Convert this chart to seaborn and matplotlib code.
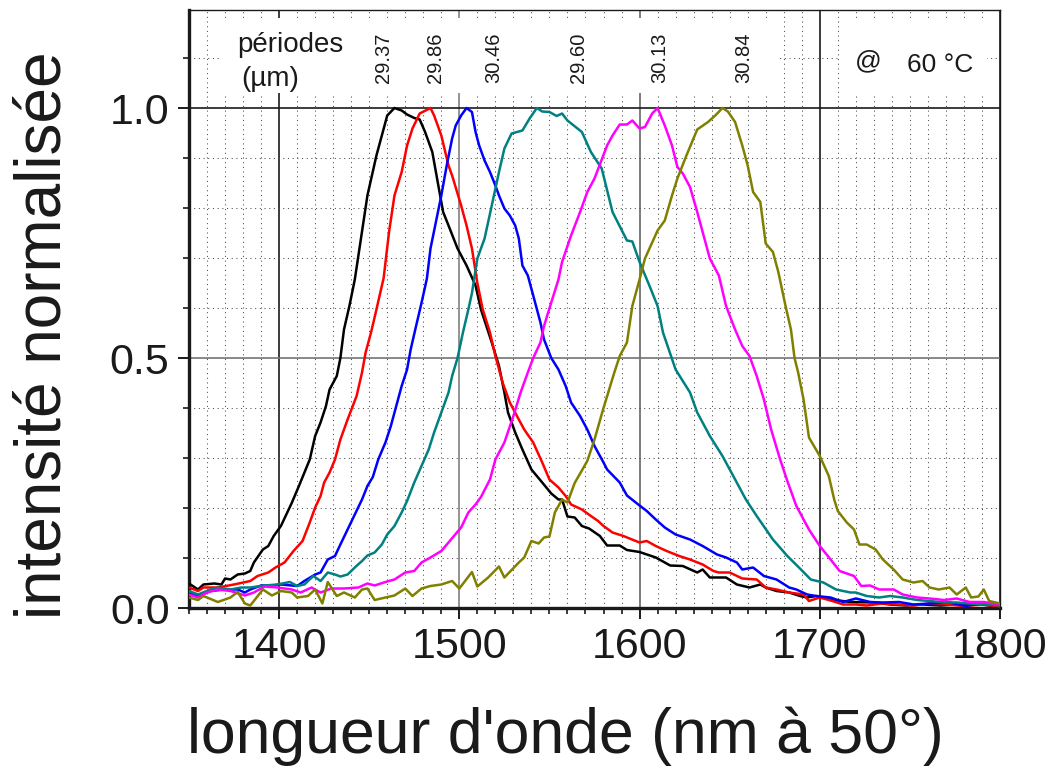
import numpy as np
import pandas as pd
import matplotlib
matplotlib.use("Agg")
import matplotlib.pyplot as plt
from matplotlib.patches import Rectangle
from matplotlib.ticker import MultipleLocator
from matplotlib import font_manager
import seaborn as sns

# ---------------- data ----------------
periods = ["29.37", "29.86", "30.46", "29.60", "30.13", "30.84"]
colors = ["#000000", "#ff0000", "#0000ff", "#008080", "#ff00ff", "#808000"]
label_x = [1458, 1487, 1519, 1566, 1611, 1658]

wl_2937 = [1350, 1355, 1358, 1364, 1368, 1370, 1373, 1377, 1381, 1384, 1386, 1391, 1394, 1397, 1401,
           1407, 1411, 1417, 1420, 1423, 1426, 1428, 1432, 1434, 1436, 1439, 1442, 1444, 1449, 1454,
           1457, 1460, 1464, 1468, 1471, 1475, 1478, 1481, 1485, 1488, 1491, 1494, 1499, 1504, 1509,
           1512, 1515, 1518, 1522, 1525, 1527, 1531, 1535, 1540, 1546, 1551, 1555, 1557, 1560, 1564,
           1568, 1572, 1578, 1582, 1589, 1593, 1600, 1609, 1617, 1624, 1632, 1635, 1639, 1648, 1654,
           1661, 1667, 1670, 1676, 1683, 1689, 1693, 1698, 1706, 1717, 1730, 1739, 1748, 1757, 1767,
           1776, 1785, 1794, 1800]
in_2937 = [0.049, 0.037, 0.047, 0.049, 0.047, 0.059, 0.057, 0.067, 0.069, 0.074, 0.091, 0.117, 0.124, 0.144, 0.164,
           0.210, 0.244, 0.297, 0.344, 0.371, 0.404, 0.437, 0.464, 0.500, 0.557, 0.604, 0.657, 0.705, 0.825, 0.905,
           0.945, 0.985, 1.000, 0.995, 0.987, 0.980, 0.977, 0.952, 0.912, 0.852, 0.792, 0.765, 0.719, 0.685, 0.645,
           0.597, 0.564, 0.531, 0.484, 0.431, 0.391, 0.351, 0.317, 0.277, 0.251, 0.229, 0.217, 0.217, 0.183, 0.181,
           0.164, 0.159, 0.144, 0.125, 0.125, 0.116, 0.112, 0.101, 0.085, 0.084, 0.071, 0.077, 0.061, 0.061, 0.047,
           0.041, 0.047, 0.041, 0.034, 0.031, 0.024, 0.021, 0.024, 0.017, 0.012, 0.011, 0.007, 0.005, 0.007, 0.005,
           0.007, 0.009, 0.005, 0.003]

wl_2986 = [1350, 1355, 1358, 1366, 1375, 1384, 1388, 1394, 1398, 1403, 1408, 1413, 1417, 1420, 1423,
           1425, 1428, 1431, 1434, 1438, 1443, 1446, 1448, 1451, 1454, 1458, 1461, 1464, 1468, 1471,
           1474, 1478, 1484, 1486, 1490, 1494, 1496, 1501, 1504, 1507, 1510, 1513, 1517, 1520, 1524,
           1528, 1533, 1536, 1541, 1546, 1550, 1555, 1559, 1562, 1568, 1573, 1577, 1580, 1585, 1591,
           1600, 1604, 1609, 1615, 1622, 1628, 1635, 1641, 1644, 1650, 1657, 1665, 1670, 1676, 1683,
           1691, 1694, 1700, 1707, 1713, 1720, 1726, 1735, 1743, 1752, 1761, 1770, 1780, 1791, 1800]
in_2986 = [0.041, 0.034, 0.041, 0.041, 0.047, 0.054, 0.064, 0.071, 0.081, 0.091, 0.114, 0.134, 0.171, 0.201, 0.224,
           0.251, 0.271, 0.297, 0.337, 0.377, 0.424, 0.471, 0.511, 0.551, 0.597, 0.660, 0.752, 0.825, 0.872, 0.925,
           0.959, 0.989, 1.000, 0.985, 0.945, 0.885, 0.865, 0.805, 0.765, 0.719, 0.650, 0.597, 0.551, 0.504, 0.451,
           0.411, 0.377, 0.357, 0.331, 0.291, 0.257, 0.241, 0.224, 0.207, 0.197, 0.184, 0.174, 0.164, 0.151, 0.144,
           0.131, 0.134, 0.124, 0.114, 0.104, 0.097, 0.087, 0.074, 0.071, 0.071, 0.059, 0.057, 0.041, 0.037, 0.031,
           0.027, 0.014, 0.021, 0.014, 0.007, 0.007, 0.005, 0.009, 0.007, 0.005, 0.009, 0.007, 0.004, 0.007, 0.003]

wl_3046 = [1350, 1355, 1362, 1370, 1377, 1381, 1384, 1390, 1396, 1401, 1407, 1410, 1414, 1420, 1423,
           1427, 1431, 1434, 1438, 1442, 1446, 1449, 1452, 1455, 1459, 1462, 1465, 1468, 1471, 1473,
           1476, 1479, 1482, 1484, 1487, 1490, 1493, 1496, 1498, 1501, 1504, 1507, 1509, 1511, 1514,
           1517, 1520, 1522, 1525, 1528, 1531, 1533, 1535, 1538, 1541, 1545, 1547, 1551, 1555, 1559,
           1562, 1567, 1571, 1575, 1580, 1582, 1589, 1593, 1600, 1604, 1609, 1614, 1620, 1628, 1635,
           1643, 1648, 1654, 1657, 1663, 1669, 1676, 1683, 1687, 1693, 1698, 1706, 1713, 1720, 1728,
           1735, 1744, 1752, 1761, 1772, 1781, 1789, 1800]
in_3046 = [0.031, 0.024, 0.034, 0.037, 0.037, 0.031, 0.037, 0.045, 0.045, 0.047, 0.045, 0.044, 0.054, 0.067, 0.071,
           0.097, 0.104, 0.127, 0.157, 0.187, 0.217, 0.244, 0.262, 0.297, 0.331, 0.364, 0.404, 0.444, 0.477, 0.517,
           0.564, 0.610, 0.659, 0.719, 0.772, 0.825, 0.885, 0.939, 0.965, 0.985, 1.000, 0.992, 0.952, 0.925, 0.895,
           0.872, 0.845, 0.825, 0.799, 0.785, 0.765, 0.739, 0.685, 0.665, 0.625, 0.571, 0.537, 0.500, 0.477, 0.444,
           0.411, 0.384, 0.357, 0.324, 0.291, 0.277, 0.251, 0.225, 0.205, 0.194, 0.177, 0.161, 0.147, 0.137, 0.124,
           0.107, 0.101, 0.091, 0.077, 0.081, 0.064, 0.057, 0.041, 0.037, 0.027, 0.024, 0.021, 0.012, 0.019, 0.012,
           0.011, 0.012, 0.007, 0.009, 0.011, 0.004, 0.009, 0.007]

wl_2960 = [1350, 1355, 1362, 1366, 1373, 1379, 1384, 1392, 1399, 1406, 1410, 1414, 1419, 1423, 1427,
           1431, 1434, 1438, 1442, 1446, 1449, 1453, 1457, 1460, 1464, 1468, 1471, 1475, 1479, 1483,
           1486, 1490, 1494, 1496, 1499, 1502, 1505, 1507, 1510, 1514, 1518, 1522, 1525, 1529, 1535,
           1539, 1543, 1546, 1550, 1554, 1557, 1560, 1568, 1573, 1579, 1585, 1593, 1596, 1600, 1606,
           1610, 1613, 1620, 1628, 1632, 1639, 1646, 1652, 1659, 1665, 1674, 1682, 1689, 1695, 1702,
           1709, 1717, 1720, 1726, 1733, 1739, 1746, 1754, 1761, 1769, 1776, 1783, 1794, 1800]
in_2960 = [0.034, 0.027, 0.037, 0.041, 0.037, 0.041, 0.041, 0.045, 0.047, 0.052, 0.044, 0.047, 0.064, 0.054, 0.071,
           0.067, 0.063, 0.067, 0.081, 0.094, 0.105, 0.111, 0.127, 0.147, 0.164, 0.191, 0.214, 0.251, 0.284, 0.317,
           0.351, 0.391, 0.431, 0.464, 0.500, 0.551, 0.597, 0.630, 0.699, 0.739, 0.805, 0.872, 0.919, 0.949, 0.955,
           0.979, 1.000, 0.993, 0.992, 0.984, 0.989, 0.975, 0.952, 0.912, 0.879, 0.792, 0.735, 0.733, 0.692, 0.640,
           0.604, 0.551, 0.477, 0.431, 0.391, 0.344, 0.304, 0.264, 0.217, 0.184, 0.137, 0.104, 0.079, 0.057, 0.051,
           0.037, 0.031, 0.031, 0.024, 0.021, 0.024, 0.021, 0.016, 0.014, 0.011, 0.011, 0.009, 0.007, 0.005]

wl_3013 = [1350, 1355, 1360, 1366, 1373, 1381, 1386, 1392, 1399, 1407, 1412, 1418, 1423, 1429, 1436,
           1444, 1449, 1453, 1459, 1464, 1470, 1475, 1479, 1484, 1490, 1494, 1497, 1501, 1505, 1509,
           1512, 1517, 1520, 1525, 1530, 1534, 1538, 1541, 1545, 1547, 1551, 1555, 1557, 1562, 1567,
           1571, 1575, 1582, 1585, 1589, 1593, 1596, 1600, 1603, 1607, 1610, 1614, 1618, 1621, 1624,
           1628, 1632, 1635, 1639, 1644, 1648, 1653, 1657, 1661, 1665, 1669, 1673, 1678, 1682, 1687,
           1694, 1700, 1706, 1711, 1719, 1723, 1728, 1733, 1741, 1746, 1754, 1761, 1769, 1776, 1783,
           1791, 1800]
in_3013 = [0.027, 0.021, 0.031, 0.037, 0.034, 0.025, 0.031, 0.043, 0.041, 0.037, 0.031, 0.041, 0.031, 0.039, 0.039,
           0.041, 0.049, 0.045, 0.052, 0.057, 0.071, 0.074, 0.091, 0.101, 0.114, 0.131, 0.144, 0.161, 0.191, 0.207,
           0.222, 0.257, 0.297, 0.331, 0.384, 0.431, 0.471, 0.500, 0.531, 0.564, 0.611, 0.657, 0.692, 0.745, 0.792,
           0.832, 0.859, 0.925, 0.945, 0.967, 0.967, 0.975, 0.959, 0.962, 0.989, 1.000, 0.965, 0.925, 0.882, 0.869,
           0.842, 0.792, 0.752, 0.699, 0.665, 0.604, 0.557, 0.524, 0.504, 0.464, 0.417, 0.357, 0.297, 0.254, 0.204,
           0.157, 0.124, 0.097, 0.074, 0.064, 0.044, 0.045, 0.037, 0.037, 0.027, 0.021, 0.019, 0.016, 0.019, 0.012,
           0.012, 0.007]

wl_3084 = [1350, 1355, 1358, 1366, 1373, 1377, 1381, 1384, 1391, 1396, 1401, 1407, 1410, 1416, 1420,
           1424, 1427, 1432, 1436, 1442, 1446, 1449, 1453, 1459, 1464, 1470, 1474, 1479, 1484, 1490,
           1496, 1500, 1507, 1510, 1516, 1522, 1525, 1533, 1536, 1540, 1544, 1547, 1550, 1553, 1557,
           1560, 1564, 1571, 1575, 1580, 1586, 1589, 1593, 1596, 1600, 1603, 1610, 1614, 1618, 1621,
           1626, 1632, 1638, 1642, 1646, 1649, 1653, 1657, 1660, 1663, 1667, 1670, 1674, 1677, 1681,
           1684, 1686, 1688, 1691, 1694, 1700, 1705, 1708, 1710, 1715, 1719, 1722, 1726, 1731, 1735,
           1741, 1746, 1752, 1757, 1761, 1766, 1772, 1776, 1781, 1784, 1788, 1791, 1794, 1800]
in_3084 = [0.021, 0.016, 0.024, 0.012, 0.021, 0.032, 0.009, 0.005, 0.037, 0.025, 0.034, 0.031, 0.021, 0.024, 0.037,
           0.009, 0.052, 0.024, 0.031, 0.021, 0.037, 0.039, 0.016, 0.021, 0.025, 0.039, 0.024, 0.039, 0.044, 0.047,
           0.054, 0.039, 0.072, 0.043, 0.061, 0.083, 0.061, 0.091, 0.101, 0.134, 0.129, 0.141, 0.143, 0.191, 0.217,
           0.211, 0.250, 0.294, 0.337, 0.400, 0.471, 0.504, 0.531, 0.604, 0.657, 0.699, 0.755, 0.775, 0.825, 0.859,
           0.905, 0.957, 0.972, 0.985, 1.000, 0.993, 0.972, 0.925, 0.885, 0.832, 0.812, 0.729, 0.712, 0.672, 0.604,
           0.557, 0.500, 0.471, 0.417, 0.341, 0.304, 0.264, 0.217, 0.194, 0.171, 0.157, 0.127, 0.127, 0.117, 0.097,
           0.077, 0.057, 0.051, 0.054, 0.041, 0.037, 0.041, 0.027, 0.041, 0.021, 0.023, 0.037, 0.014, 0.009]

wavelengths = [wl_2937, wl_2986, wl_3046, wl_2960, wl_3013, wl_3084]
intensities = [in_2937, in_2986, in_3046, in_2960, in_3013, in_3084]

x_ticks = [1400, 1500, 1600, 1700, 1800]
y_ticks = [0.0, 0.5, 1.0]
y_ticklabels = ["0.0", "0.5", "1.0"]

# ---------------- build long table ----------------
frames = []
for p, w, v in zip(periods, wavelengths, intensities):
    frames.append(pd.DataFrame({"wl": w, "I": v, "period": p}))
df = pd.concat(frames, ignore_index=True)

sns.set_theme(style="white")
plt.rcParams["font.family"] = ["Liberation Sans", "DejaVu Sans"]
plt.rcParams["text.color"] = "black"
plt.rcParams["axes.labelcolor"] = "black"
plt.rcParams["xtick.color"] = "black"
plt.rcParams["ytick.color"] = "black"
plt.rcParams["xtick.labelcolor"] = "black"
plt.rcParams["ytick.labelcolor"] = "black"

# narrow font for the annotation band, if present
try:
    font_manager.findfont("Liberation Sans Narrow", fallback_to_default=False)
    narrow = ["Liberation Sans Narrow", "Liberation Sans", "DejaVu Sans"]
    nscale = 1.2
except Exception:
    narrow = ["Liberation Sans", "DejaVu Sans"]
    nscale = 1.0

fig = plt.figure(figsize=(10.59, 7.69), dpi=100)
ax = fig.add_axes([189 / 1059, 1 - 608 / 769, (1000 - 189) / 1059, (608 - 10) / 769])

sns.lineplot(data=df, x="wl", y="I", hue="period", hue_order=periods,
             palette=dict(zip(periods, colors)), estimator=None, sort=False,
             legend=False, linewidth=1.8, ax=ax, zorder=3)

ax.set_xlim(1350, 1800)
ax.set_ylim(0, 1.196)

ax.set_xticks(x_ticks)
ax.set_xticklabels([str(t) for t in x_ticks])
ax.set_yticks(y_ticks)
ax.set_yticklabels(y_ticklabels)
ax.xaxis.set_minor_locator(MultipleLocator(10))
ax.yaxis.set_minor_locator(MultipleLocator(0.1))

ax.set_axisbelow(True)
ax.grid(which="minor", color="0.3", linestyle=(0, (1, 3.5)), linewidth=0.75)
ax.grid(which="major", color="0.4", linestyle="-", linewidth=1.2)
xcols = ["k", "0.5", "0.4", "k", "k"]
for gl, c in zip(ax.get_xgridlines(), xcols):
    gl.set_color(c)
ycols = ["k", "0.45", "k"]
for gl, c in zip(ax.get_ygridlines(), ycols):
    gl.set_color(c)

for s in ["left", "bottom"]:
    ax.spines[s].set_linewidth(2.4)
    ax.spines[s].set_color("k")
for s in ["top", "right"]:
    ax.spines[s].set_linewidth(1.0)
    ax.spines[s].set_color("k")

ax.tick_params(which="major", direction="out", length=8, width=1.4, labelsize=31,
               colors="k", labelcolor="k", pad=6, bottom=True, left=True)
ax.tick_params(which="minor", direction="out", length=4.3, width=1.2, colors="k",
               bottom=True, left=True)

ax.set_xlabel("longueur d'onde (nm à 50°)", fontsize=45, color="k")
ax.set_ylabel("intensité normalisée", fontsize=46, color="k")
ax.xaxis.set_label_coords(0.4636, -0.165)
ax.yaxis.set_label_coords(-0.143, 0.4565)

# white background panels in the top band
ax.add_patch(Rectangle((1368, 1.03), 309, 0.15, facecolor="white", edgecolor="none", zorder=1))
ax.add_patch(Rectangle((1712, 1.03), 81, 0.15, facecolor="white", edgecolor="none", zorder=1))

ax.text(1406, 1.126, "périodes", fontsize=20 * nscale, family=narrow, color="k",
        ha="center", va="center", zorder=4)
ax.text(1395, 1.058, "(µm)", fontsize=20 * nscale, family=narrow, color="k",
        ha="center", va="center", zorder=4)
for lx, p in zip(label_x, periods):
    ax.text(lx, 1.101, p, fontsize=14.5 * nscale, family=narrow, rotation=90, color="k",
            ha="center", va="center", zorder=4)
ax.text(1727, 1.093, "@", fontsize=19, family=narrow, color="k", ha="center", va="center", zorder=4)
ax.text(1767, 1.087, "60 °C", fontsize=19 * nscale, family=narrow, color="k",
        ha="center", va="center", zorder=4)

fig.savefig("out.png", dpi=100)
